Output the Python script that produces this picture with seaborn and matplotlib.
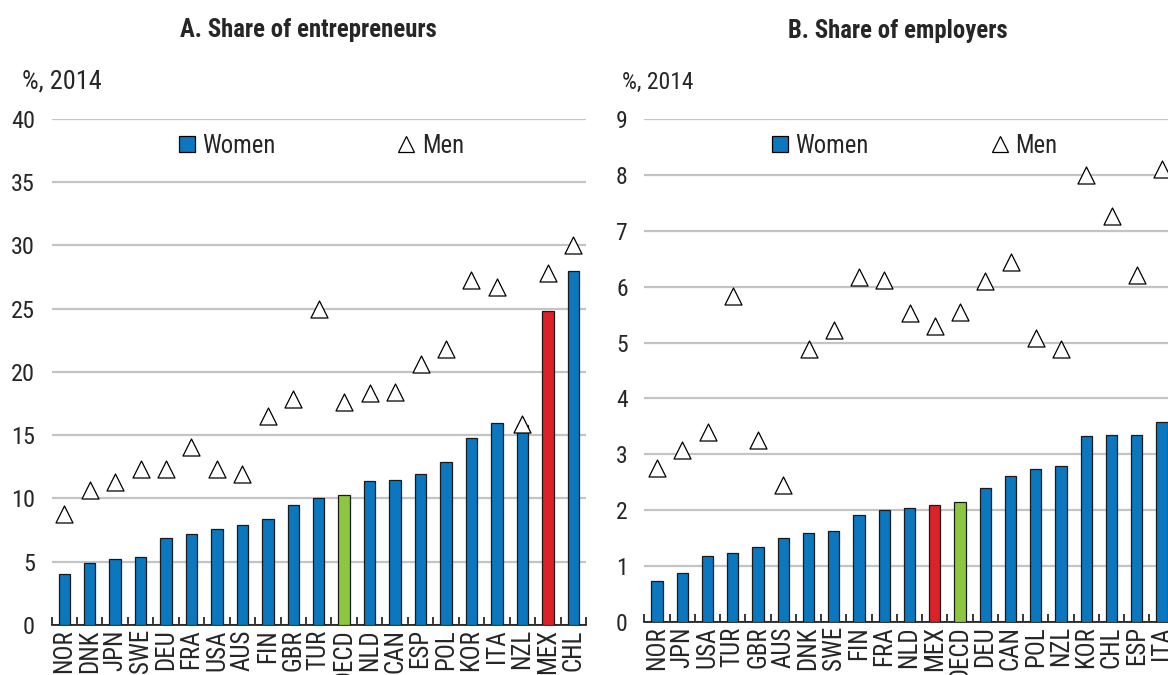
import numpy as np
import pandas as pd
import matplotlib
matplotlib.use("Agg")
import matplotlib.pyplot as plt
from matplotlib import font_manager as fm
from matplotlib.patches import Patch
from matplotlib.lines import Line2D
from matplotlib.ticker import MultipleLocator, FixedLocator
import seaborn as sns

# ---------------- data ----------------
countries_a = ["NOR", "DNK", "JPN", "SWE", "DEU", "FRA", "USA", "AUS", "FIN", "GBR", "TUR",
               "OECD", "NLD", "CAN", "ESP", "POL", "KOR", "ITA", "NZL", "MEX", "CHL"]
women_a = [4.0, 4.9, 5.25, 5.4, 6.9, 7.2, 7.55, 7.9, 8.4, 9.45, 10.0,
           10.3, 11.4, 11.5, 11.9, 12.9, 14.75, 15.95, 15.8, 24.8, 28.0]
men_a = [8.8, 10.7, 11.3, 12.3, 12.3, 14.1, 12.3, 11.9, 16.5, 17.9, 25.0,
         17.6, 18.3, 18.4, 20.6, 21.8, 27.3, 26.7, 15.9, 27.8, 30.0]

countries_b = ["NOR", "JPN", "USA", "TUR", "GBR", "AUS", "DNK", "SWE", "FIN", "FRA", "NLD",
               "MEX", "OECD", "DEU", "CAN", "POL", "NZL", "KOR", "CHL", "ESP", "ITA"]
women_b = [0.73, 0.87, 1.19, 1.24, 1.35, 1.5, 1.6, 1.62, 1.91, 2.0, 2.04,
           2.09, 2.15, 2.39, 2.61, 2.73, 2.79, 3.33, 3.34, 3.35, 3.57]
men_b = [2.75, 3.08, 3.4, 5.83, 3.26, 2.45, 4.88, 5.22, 6.17, 6.12, 5.52,
         5.29, 5.55, 6.11, 6.44, 5.08, 4.88, 8.0, 7.26, 6.2, 8.1]

title_a = "A. Share of entrepreneurs"
title_b = "B. Share of employers"
unit_label = "%, 2014"
legend_labels = ["Women", "Men"]

BLUE = "#0B77BE"
RED = "#DC2128"
GREEN = "#8DC63F"
GRID = "#C4C4C4"

sns.set_theme(style="white")

# pick a narrow font if one is installed
_names = {f.name for f in fm.fontManager.ttflist}
_narrow = [n for n in ["Liberation Sans Narrow", "Arial Narrow", "Roboto Condensed",
                       "DejaVu Sans Condensed", "Open Sans Condensed"] if n in _names]
NARROW = bool(_narrow)
plt.rcParams["font.family"] = _narrow[:1] + ["Liberation Sans", "DejaVu Sans"]
k = 1.0 if NARROW else 0.85   # shrink sizes for a wide fallback font

fig = plt.figure(figsize=(11.68, 6.75), dpi=100)
axA = fig.add_axes([0.0441, 0.0741, 0.4576, 0.7496])
axB = fig.add_axes([0.5517, 0.0785, 0.4540, 0.7452])


def panel(ax, cats, women, men, ymax, step, tick_fs, leg_x):
    n = len(cats)
    df = pd.DataFrame({"country": cats, "women": women, "men": men, "pos": np.arange(n)})
    colors = [RED if c == "MEX" else GREEN if c == "OECD" else BLUE for c in cats]
    sns.barplot(data=df, x="country", y="women", hue="country", palette=colors,
                legend=False, width=0.45, edgecolor="#1a1a1a", linewidth=0.9,
                saturation=1, ax=ax, zorder=3)
    sns.scatterplot(data=df, x="pos", y="men", marker="^", s=150, color="white",
                    edgecolor="black", linewidth=0.9, ax=ax, zorder=5, legend=False)
    ax.set_xlim(-0.5, n - 0.5)
    ax.set_ylim(0, ymax)
    ax.yaxis.set_major_locator(MultipleLocator(step))
    ax.grid(axis="y", color=GRID, linewidth=1.6)
    ax.grid(axis="x", visible=False)
    ax.set_axisbelow(True)
    for s in ["left", "right", "top"]:
        ax.spines[s].set_visible(False)
    ax.spines["bottom"].set_color("black")
    ax.spines["bottom"].set_linewidth(1.1)
    ax.set_xlabel("")
    ax.set_ylabel("")
    ax.set_xticks(np.arange(n))
    ax.set_xticklabels(cats, rotation=90, va="top", ha="center", fontsize=18 * k)
    ax.xaxis.set_minor_locator(FixedLocator(np.arange(-0.5, n, 1.0)))
    ax.tick_params(axis="x", which="major", length=0, pad=3)
    ax.tick_params(axis="x", which="minor", direction="in", length=6, width=1.1,
                   color="black", bottom=True)
    ax.tick_params(axis="y", length=0, pad=12, labelsize=tick_fs * k)
    handles = [Patch(facecolor=BLUE, edgecolor="black", linewidth=0.9),
               Line2D([], [], marker="^", linestyle="", markersize=11,
                      markerfacecolor="white", markeredgecolor="black", markeredgewidth=0.9)]
    ax.legend(handles, legend_labels, ncol=2, frameon=False, loc="center",
              bbox_to_anchor=(leg_x, 0.947), fontsize=17.7 * k, columnspacing=5.0,
              handlelength=0.65, handleheight=0.65, handletextpad=0.3)


panel(axA, countries_a, women_a, men_a, 40, 5, 17.5, 0.505)
panel(axB, countries_b, women_b, men_b, 9, 1, 17, 0.51)

fig.text(308 / 1168, 1 - 30 / 675, title_a, ha="center", va="center",
         fontsize=17.8 * k, fontweight="bold")
fig.text(898 / 1168, 1 - 31 / 675, title_b, ha="center", va="center",
         fontsize=17.8 * k, fontweight="bold")
fig.text(22 / 1168, 1 - 82 / 675, unit_label, ha="left", va="center", fontsize=19 * k)
fig.text(622 / 1168, 1 - 82 / 675, unit_label, ha="left", va="center", fontsize=16.9 * k)

fig.savefig("out.png", dpi=100)
